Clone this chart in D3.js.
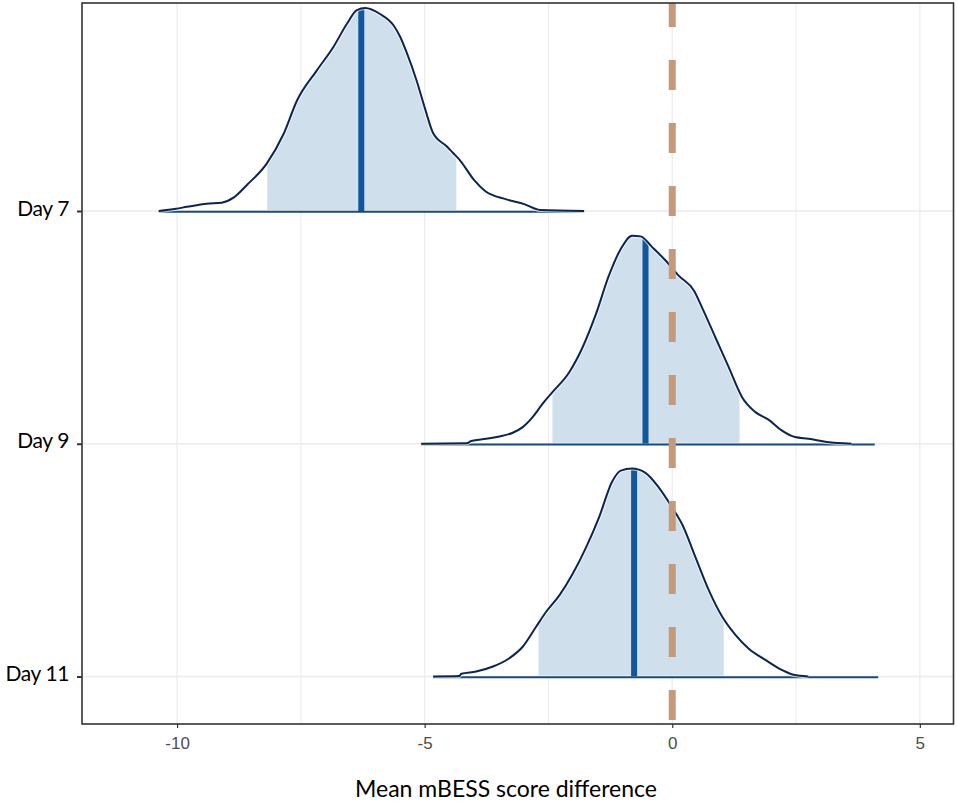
<!DOCTYPE html>
<html lang="en">

<head>
  <meta charset="UTF-8">
  <title>mBESS ridges</title>
  <style>
    body {
      margin: 0;
      background: #fff;
    }

    .x-ticks text {
      font-family: "Liberation Sans", Arial, sans-serif;
      font-size: 17px;
      fill: #4d4d4d;
    }

    .y-ticks text {
      font-family: Lato, sans-serif;
      font-size: 21px;
      letter-spacing: -0.4px;
      fill: #000;
    }

    .title {
      font-family: Lato, sans-serif;
      font-size: 23px;
      fill: #000;
    }
  </style>
</head>

<body>
  <div class="container"></div>
  <script src="https://d3js.org/d3.v7.min.js"></script>
  <script>
    // categories, top to bottom
    const days = ["Day 7", "Day 9", "Day 11"];

    // density outlines: [score difference, relative height]
    const dens7 = [[-10.37, 0], [-10.02, 0.011], [-9.8, 0.02], [-9.4, 0.035], [-9.1, 0.04], [-8.86, 0.064],
      [-8.59, 0.125], [-8.19, 0.228], [-7.85, 0.37], [-7.58, 0.53], [-7.18, 0.675], [-6.84, 0.79],
      [-6.57, 0.9], [-6.37, 0.966], [-6.2, 0.976], [-5.9, 0.947], [-5.63, 0.893], [-5.5, 0.84],
      [-5.36, 0.76], [-5.16, 0.625], [-4.99, 0.49], [-4.83, 0.375], [-4.55, 0.31], [-4.43, 0.28],
      [-4.29, 0.245], [-4.0, 0.148], [-3.78, 0.096], [-3.35, 0.056], [-2.99, 0.033], [-2.67, 0.005],
      [-1.78, 0]];
    const dens9 = [[-5.07, 0], [-4.15, 0.002], [-4.06, 0.013], [-3.76, 0.024], [-3.49, 0.035], [-3.22, 0.053],
      [-3.02, 0.08], [-2.82, 0.128], [-2.62, 0.192], [-2.42, 0.248], [-2.08, 0.344], [-1.81, 0.464],
      [-1.54, 0.624], [-1.28, 0.808], [-1.04, 0.936], [-0.81, 1.0], [-0.64, 0.997], [-0.4, 0.944],
      [-0.13, 0.88], [0.13, 0.808], [0.44, 0.736], [0.6, 0.656], [0.87, 0.512], [1.14, 0.368],
      [1.41, 0.224], [1.68, 0.152], [1.95, 0.115], [2.21, 0.064], [2.48, 0.032], [2.75, 0.024],
      [3.12, 0.008], [3.62, 0]];
    const dens11 = [[-4.83, 0], [-4.3, 0.002], [-4.26, 0.013], [-3.96, 0.024], [-3.62, 0.048], [-3.29, 0.088],
      [-3.02, 0.143], [-2.75, 0.239], [-2.55, 0.31], [-2.28, 0.39], [-2.01, 0.494], [-1.74, 0.621],
      [-1.48, 0.764], [-1.21, 0.939], [-1.04, 0.99], [-0.81, 1.0], [-0.54, 0.979], [-0.27, 0.908],
      [0, 0.812], [0.2, 0.732], [0.47, 0.573], [0.74, 0.414], [1.01, 0.287], [1.28, 0.199],
      [1.54, 0.135], [1.88, 0.08], [2.21, 0.032], [2.45, 0.008], [2.75, 0]];
    const densities = [dens7, dens9, dens11];

    const medians = [-6.28, -0.54, -0.77];
    const ciLow = [-8.18, -2.42, -2.7];
    const ciHigh = [-4.36, 1.36, 1.04];
    const rangeMin = [-10.37, -5.07, -4.83];
    const rangeMax = [-1.78, 4.09, 4.16];

    const xTicks = [-10, -5, 0, 5];
    const xMinor = [-7.5, -2.5, 2.5];
    const refValue = 0;

    const W = 957, H = 808;
    const pLeft = 82, pRight = 953.5, pTop = 3, pBottom = 724;

    const xScale = d3.scaleLinear()
      .domain([-11.92, 5.68])
      .range([pLeft, pRight]);

    const yScale = d3.scalePoint()
      .domain(days)
      .range([211, 676.5]);

    // ridge height in px
    const hScale = d3.scaleLinear()
      .domain([0, 1])
      .range([0, 208]);

    const svg = d3.select('.container')
      .append('svg')
      .attr('width', W)
      .attr('height', H);

    const defs = svg.append('defs');

    // grid
    const grid = svg.append('g');
    grid.selectAll('.v')
      .data(xTicks.concat(xMinor))
      .enter()
      .append('line')
      .attr('x1', d => xScale(d))
      .attr('x2', d => xScale(d))
      .attr('y1', pTop)
      .attr('y2', pBottom)
      .attr('stroke', '#ebebeb')
      .attr('stroke-width', d => xTicks.includes(d) ? 1.2 : 1);
    grid.selectAll('.h')
      .data(days)
      .enter()
      .append('line')
      .attr('x1', pLeft)
      .attr('x2', pRight)
      .attr('y1', d => yScale(d))
      .attr('y2', d => yScale(d))
      .attr('stroke', '#ebebeb')
      .attr('stroke-width', 1.5);

    // ridges
    days.forEach((day, i) => {
      const base = yScale(day);
      const area = d3.area()
        .x(d => xScale(d[0]))
        .y0(base)
        .y1(d => base - hScale(d[1]))
        .curve(d3.curveMonotoneX);
      const line = d3.line()
        .x(d => xScale(d[0]))
        .y(d => base - hScale(d[1]))
        .curve(d3.curveMonotoneX);

      defs.append('clipPath')
        .attr('id', 'clip' + i)
        .append('path')
        .attr('d', area(densities[i]));

      const g = svg.append('g');

      // shaded interval
      g.append('rect')
        .attr('clip-path', `url(#clip${i})`)
        .attr('x', xScale(ciLow[i]))
        .attr('width', xScale(ciHigh[i]) - xScale(ciLow[i]))
        .attr('y', base - hScale(1.05))
        .attr('height', hScale(1.05) - 1)
        .attr('fill', '#cfe0ec');

      // median
      g.append('rect')
        .attr('clip-path', `url(#clip${i})`)
        .attr('x', xScale(medians[i]) - 3)
        .attr('width', 6)
        .attr('y', base - hScale(1.05))
        .attr('height', hScale(1.05))
        .attr('fill', '#11589a');

      // baseline
      g.append('line')
        .attr('x1', xScale(rangeMin[i]))
        .attr('x2', xScale(rangeMax[i]))
        .attr('y1', base + 0.8)
        .attr('y2', base + 0.8)
        .attr('stroke', '#1a4a7c')
        .attr('stroke-width', 2);

      // outline
      g.append('path')
        .attr('d', line(densities[i]))
        .attr('fill', 'none')
        .attr('stroke', '#fff')
        .attr('stroke-width', 4)
        .attr('stroke-opacity', 0.7);
      g.append('path')
        .attr('d', line(densities[i]))
        .attr('fill', 'none')
        .attr('stroke', '#0b2550')
        .attr('stroke-width', 2);
    });

    // reference line at zero
    svg.append('line')
      .attr('x1', xScale(refValue))
      .attr('x2', xScale(refValue))
      .attr('y1', pTop)
      .attr('y2', pBottom)
      .attr('stroke', '#c49a7a')
      .attr('stroke-width', 7)
      .attr('stroke-dasharray', '30 33')
      .attr('stroke-dashoffset', 6);

    // axes
    const xAxis = d3.axisBottom(xScale)
      .tickValues(xTicks)
      .tickSize(4)
      .tickPadding(9)
      .tickFormat(d => String(d));
    const xg = svg.append('g')
      .attr('class', 'x-ticks')
      .attr('transform', `translate(0, ${pBottom})`)
      .call(xAxis);
    xg.select('.domain').remove();
    xg.selectAll('line').attr('stroke', '#333').attr('stroke-width', 1.2);

    const yAxis = d3.axisLeft(yScale)
      .tickSize(5)
      .tickPadding(8);
    const yg = svg.append('g')
      .attr('class', 'y-ticks')
      .attr('transform', `translate(${pLeft}, 0)`)
      .call(yAxis);
    yg.select('.domain').remove();
    yg.selectAll('line').attr('stroke', '#333').attr('stroke-width', 2);
    yg.selectAll('text').attr('dy', '0.2em');

    // panel border
    svg.append('rect')
      .attr('x', pLeft)
      .attr('y', pTop)
      .attr('width', pRight - pLeft)
      .attr('height', pBottom - pTop)
      .attr('fill', 'none')
      .attr('stroke', '#333')
      .attr('stroke-width', 1.6);

    svg.append('text')
      .attr('class', 'title')
      .attr('x', 506)
      .attr('y', 797)
      .attr('text-anchor', 'middle')
      .text('Mean mBESS score difference');
  </script>
</body>

</html>
